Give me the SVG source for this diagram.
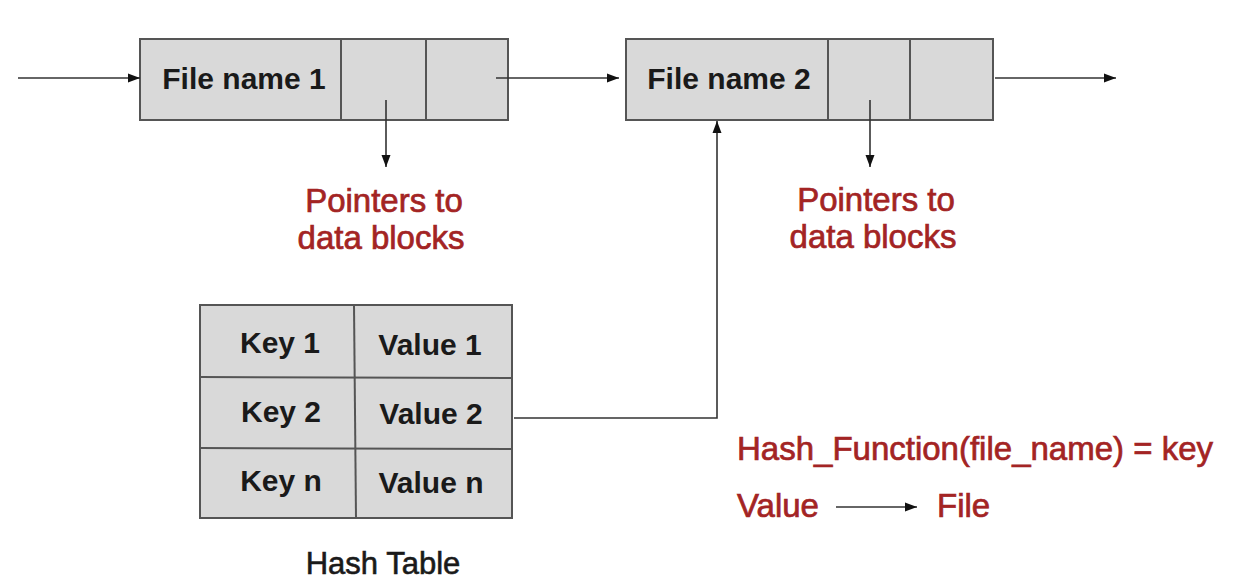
<svg xmlns="http://www.w3.org/2000/svg" width="1246" height="584" viewBox="0 0 1246 584">
<defs>
<style>
.box{fill:#d9d9d9;stroke:#555;stroke-width:2}
.div{stroke:#555;stroke-width:2;fill:none}
.bt{font-family:"Liberation Sans",Arial,sans-serif;font-weight:bold;font-size:30px;fill:#1a1a1a;text-anchor:middle}
.rt{font-family:"Liberation Sans",Arial,sans-serif;font-size:33px;fill:#a32424;stroke:#a32424;stroke-width:0.7}
.ht{font-family:"Liberation Sans",Arial,sans-serif;font-size:31px;fill:#1a1a1a;stroke:#1a1a1a;stroke-width:0.6;text-anchor:middle}
.ln{stroke:#333;stroke-width:1.6;fill:none}
</style>
<marker id="ah" viewBox="0 0 12 10" refX="12" refY="5" markerWidth="12" markerHeight="10" markerUnits="userSpaceOnUse" orient="auto">
<path d="M0,0.5 L12,5 L0,9.5 Z" fill="#111"/>
</marker>
</defs>
<rect width="1246" height="584" fill="#fff"/>
<g id="file1">
<rect class="box" x="140" y="39" width="368" height="81"/>
<line class="div" x1="341" y1="39" x2="341" y2="120"/>
<line class="div" x1="426" y1="39" x2="426" y2="120"/>
<text class="bt" x="244" y="89">File name 1</text>
</g>
<g id="file2">
<rect class="box" x="626" y="39" width="367" height="81"/>
<line class="div" x1="828" y1="39" x2="828" y2="120"/>
<line class="div" x1="910" y1="39" x2="910" y2="120"/>
<text class="bt" x="729" y="89">File name 2</text>
</g>
<g id="ptr1">
<text class="rt" x="384" y="212" text-anchor="middle">Pointers to</text>
<text class="rt" x="381" y="249" text-anchor="middle">data blocks</text>
</g>
<g id="ptr2">
<text class="rt" x="876" y="211" text-anchor="middle">Pointers to</text>
<text class="rt" x="873" y="248" text-anchor="middle">data blocks</text>
</g>
<g id="hashtable">
<rect class="box" x="200" y="305" width="312" height="213"/>
<line class="div" x1="354" y1="305" x2="356" y2="518"/>
<line class="div" x1="200" y1="377" x2="512" y2="378"/>
<line class="div" x1="200" y1="448" x2="513" y2="449"/>
<text class="bt" x="280" y="353">Key 1</text>
<text class="bt" x="430" y="355">Value 1</text>
<text class="bt" x="281" y="422">Key 2</text>
<text class="bt" x="431" y="424">Value 2</text>
<text class="bt" x="281" y="491">Key n</text>
<text class="bt" x="431" y="493">Value n</text>
<text class="ht" x="383" y="574">Hash Table</text>
</g>
<g id="legend">
<text class="rt" x="737" y="460">Hash_Function(file_name) = key</text>
<text class="rt" x="737" y="517">Value</text>
<text class="rt" x="937" y="517">File</text>
</g>
<g id="connectors">
<line class="ln" x1="18" y1="78" x2="140" y2="78" marker-end="url(#ah)"/>
<line class="ln" x1="496" y1="78" x2="619" y2="78" marker-end="url(#ah)"/>
<line class="ln" x1="995" y1="78" x2="1116" y2="78" marker-end="url(#ah)"/>
<line class="ln" x1="386" y1="100" x2="386" y2="167" marker-end="url(#ah)"/>
<line class="ln" x1="870" y1="100" x2="870" y2="167" marker-end="url(#ah)"/>
<polyline class="ln" points="514,418 717,418 717,121" marker-end="url(#ah)"/>
<line class="ln" x1="836" y1="507" x2="917" y2="507" marker-end="url(#ah)"/>
</g>
</svg>
